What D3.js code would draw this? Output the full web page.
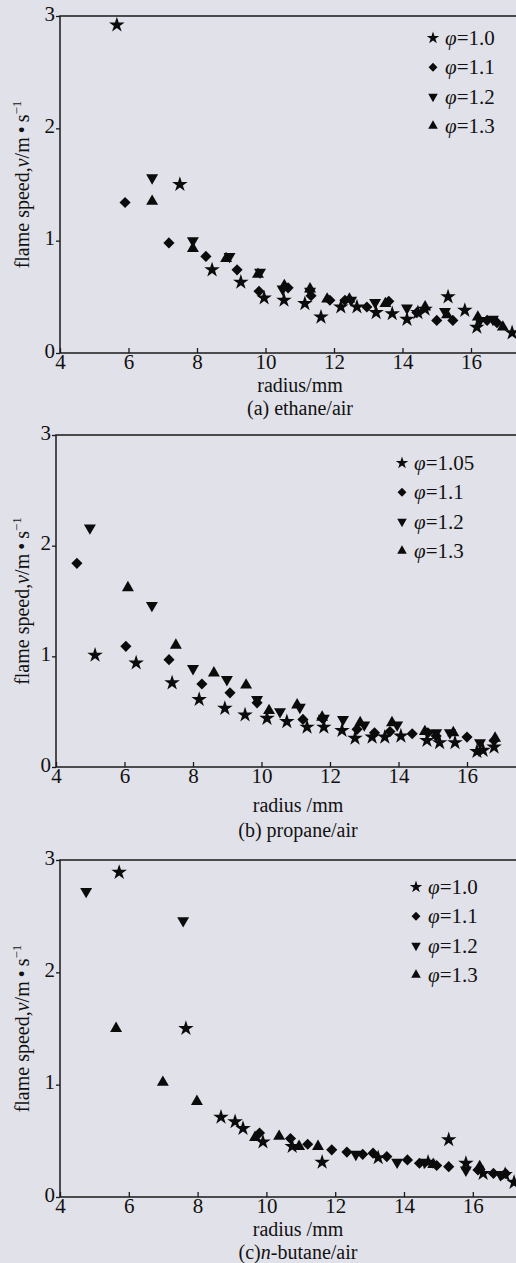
<!DOCTYPE html>
<html>
<head>
<meta charset="utf-8">
<script src="https://cdn.jsdelivr.net/npm/d3@7"></script>
<style>
  html, body { margin: 0; padding: 0; background: #e1e1e9; }
  svg { display: block; }
</style>
</head>
<body>
<div id="chart"></div>
<script>
// three stacked scatter panels: flame speed vs radius, 4 equivalence ratios each

const xTicks = [4, 6, 8, 10, 12, 14, 16];
const yTicks = [0, 1, 2, 3];

// (a) ethane/air  [radius mm, speed m/s]
const ethanePhi10 = [[5.66,2.92],[7.5,1.50],[8.44,0.74],[9.28,0.63],[9.96,0.49],[10.54,0.47],[11.15,0.44],[11.62,0.32],[12.2,0.41],[12.67,0.41],[13.23,0.36],[13.7,0.35],[14.13,0.30],[14.45,0.36],[14.66,0.39],[15.33,0.50],[15.82,0.38],[16.17,0.23],[17.2,0.18]];
const ethanePhi11 = [[5.9,1.34],[7.18,0.98],[8.26,0.86],[9.17,0.74],[9.81,0.55],[10.66,0.58],[11.33,0.51],[11.88,0.47],[12.32,0.47],[12.96,0.41],[13.6,0.46],[14.42,0.36],[15.0,0.29],[15.47,0.29],[16.47,0.29],[16.76,0.27]];
const ethanePhi12 = [[6.69,1.56],[7.88,1.0],[8.95,0.86],[9.84,0.72],[10.5,0.57],[11.3,0.55],[12.5,0.47],[13.2,0.45],[14.13,0.40],[15.24,0.37],[16.26,0.29],[16.64,0.30]];
const ethanePhi13 = [[6.69,1.35],[7.88,0.93],[8.85,0.84],[9.78,0.70],[10.55,0.60],[11.3,0.57],[11.8,0.48],[12.45,0.48],[13.5,0.44],[14.66,0.41],[15.3,0.34],[16.2,0.32],[16.93,0.23]];

// (b) propane/air
const propanePhi105 = [[5.14,1.01],[6.34,0.94],[7.39,0.76],[8.18,0.61],[8.93,0.53],[9.52,0.47],[10.16,0.44],[10.74,0.41],[11.33,0.36],[11.82,0.36],[12.35,0.33],[12.73,0.26],[13.23,0.27],[13.6,0.27],[14.07,0.28],[14.83,0.24],[15.2,0.22],[15.65,0.22],[16.29,0.14],[16.47,0.15],[16.79,0.18]];
const propanePhi11 = [[4.61,1.84],[6.04,1.09],[7.3,0.97],[8.26,0.75],[9.08,0.67],[9.87,0.58],[11.21,0.43],[11.77,0.44],[12.79,0.34],[13.3,0.31],[13.75,0.32],[14.4,0.30],[14.86,0.31],[15.1,0.28],[16.0,0.27],[16.79,0.24]];
const propanePhi12 = [[4.99,2.16],[6.8,1.46],[8.0,0.89],[8.99,0.79],[9.87,0.61],[10.54,0.50],[11.12,0.54],[11.82,0.44],[12.38,0.43],[13.0,0.38],[13.96,0.38],[15.1,0.31],[15.5,0.31],[16.38,0.22]];
const propanePhi13 = [[6.1,1.62],[7.5,1.10],[8.61,0.85],[9.55,0.74],[10.22,0.51],[11.04,0.56],[11.77,0.45],[12.88,0.40],[13.81,0.40],[14.77,0.32],[15.6,0.31],[16.82,0.26]];

// (c) n-butane/air
const butanePhi10 = [[5.72,2.89],[7.66,1.50],[8.68,0.71],[9.09,0.67],[9.32,0.61],[9.9,0.49],[10.75,0.45],[11.62,0.31],[13.25,0.35],[14.7,0.31],[15.3,0.51],[15.8,0.30],[16.3,0.21],[16.94,0.20],[17.2,0.13]];
const butanePhi11 = [[9.8,0.57],[10.7,0.52],[11.2,0.47],[11.9,0.42],[12.34,0.40],[12.8,0.38],[13.1,0.39],[13.5,0.36],[14.1,0.33],[14.45,0.30],[14.95,0.28],[15.3,0.27],[16.15,0.24],[16.6,0.21],[16.95,0.21]];
const butanePhi12 = [[4.76,2.72],[7.58,2.46],[12.6,0.38],[13.8,0.31],[14.6,0.31],[15.8,0.24],[16.8,0.20]];
const butanePhi13 = [[5.63,1.50],[6.99,1.02],[7.98,0.85],[9.67,0.53],[10.37,0.54],[10.95,0.45],[11.5,0.45],[14.85,0.29],[16.2,0.27]];

const legendA = ["1.0", "1.1", "1.2", "1.3"];
const legendB = ["1.05", "1.1", "1.2", "1.3"];
const legendC = ["1.0", "1.1", "1.2", "1.3"];

const xLabels = ["radius/mm", "radius /mm", "radius /mm"];
const captions = ["(a) ethane/air", "(b) propane/air", "(c)"];

// layout
const panels = [
  { series: [ethanePhi10, ethanePhi11, ethanePhi12, ethanePhi13], legend: legendA,
    left: 60, ppm: 34.25, top: 16, bottom: 353,
    legX: 433, legY: 38, xlab: xLabels[0], caption: captions[0],
    labDy: 39, capDy: 62, cx: 300 },
  { series: [propanePhi105, propanePhi11, propanePhi12, propanePhi13], legend: legendB,
    left: 56, ppm: 34.25, top: 435, bottom: 767,
    legX: 402, legY: 463, xlab: xLabels[1], caption: captions[1],
    labDy: 45, capDy: 70, cx: 298 },
  { series: [butanePhi10, butanePhi11, butanePhi12, butanePhi13], legend: legendC,
    left: 60, ppm: 34.4, top: 860, bottom: 1197,
    legX: 416, legY: 887, xlab: xLabels[2], caption: captions[2],
    labDy: 39, capDy: 62, cx: 298 }
];

const W = 516, H = 1263;
const FONT = "'Liberation Serif'";
const INK = "#111";

const svg = d3.select("#chart").append("svg")
  .attr("width", W)
  .attr("height", H);

// marker shapes: star, diamond, down triangle, up triangle
const starPath = d3.symbol(d3.symbolStar, 75)();
const diamondPath = d3.symbol(d3.symbolSquare, 62)();
const triPath = d3.symbol(d3.symbolTriangle, 62)();

function markerPath(i) {
  return [starPath, diamondPath, triPath, triPath][i];
}
function markerRot(i) {
  return [0, 45, 180, 0][i];
}

// every text gets the font set directly
function txt(sel, size) {
  return sel.append("text")
    .attr("font-family", FONT)
    .attr("font-size", size)
    .attr("fill", INK);
}

panels.forEach(p => {
  const x = d3.scaleLinear().domain([4, 18]).range([p.left, p.left + 14 * p.ppm]);
  const y = d3.scaleLinear().domain([0, 3]).range([p.bottom, p.top]);

  const g = svg.append("g");

  // frame
  g.append("rect")
    .attr("x", x(4))
    .attr("y", y(3))
    .attr("width", x(18) - x(4))
    .attr("height", y(0) - y(3))
    .attr("fill", "none")
    .attr("stroke", "#1a1a1a")
    .attr("stroke-width", 1.5);

  const xAxis = d3.axisBottom(x)
    .tickValues(xTicks)
    .tickSizeInner(-5)
    .tickSizeOuter(0)
    .tickPadding(1)
    .tickFormat(d3.format("d"));

  const gx = g.append("g")
    .attr("transform", `translate(0,${y(0)})`)
    .call(xAxis);
  gx.select(".domain").remove();
  gx.selectAll("line").attr("stroke", "#1a1a1a").attr("stroke-width", 1.3);
  gx.selectAll("text")
    .attr("font-family", FONT)
    .attr("font-size", 21)
    .attr("fill", INK);

  const yAxis = d3.axisLeft(y)
    .tickValues(yTicks)
    .tickSizeInner(4)
    .tickSizeOuter(0)
    .tickPadding(1)
    .tickFormat(d3.format("d"));

  const gy = g.append("g")
    .attr("transform", `translate(${x(4)},0)`)
    .call(yAxis);
  gy.select(".domain").remove();
  gy.selectAll("line").attr("stroke", "#1a1a1a").attr("stroke-width", 1.3);
  gy.selectAll("text")
    .attr("font-family", FONT)
    .attr("font-size", 21)
    .attr("fill", INK)
    .attr("dy", "0.2em");

  // points
  p.series.forEach((rows, i) => {
    g.append("g").selectAll("path")
      .data(rows)
      .join("path")
      .attr("d", markerPath(i))
      .attr("transform", d => `translate(${x(d[0])},${y(d[1])}) rotate(${markerRot(i)})`)
      .attr("fill", "#0b0b0b");
  });

  // legend
  p.legend.forEach((lab, i) => {
    const ly = p.legY + i * 29.3;
    g.append("path")
      .attr("d", markerPath(i))
      .attr("transform", `translate(${p.legX},${ly}) rotate(${markerRot(i)}) scale(0.8)`)
      .attr("fill", "#0b0b0b");
    const t = txt(g, 21)
      .attr("x", p.legX + 12)
      .attr("y", ly + 7);
    t.append("tspan").attr("font-style", "italic").text("φ");
    t.append("tspan").text("=" + lab);
  });

  // y label
  const cy = (p.top + p.bottom) / 2;
  const yl = txt(g, 20)
    .attr("transform", `translate(29,${cy}) rotate(-90)`)
    .attr("text-anchor", "middle");
  yl.append("tspan").text("flame speed,");
  yl.append("tspan").attr("font-style", "italic").text("v");
  yl.append("tspan").text("/m\u2009•\u2009s");
  yl.append("tspan").attr("font-size", 13).attr("dy", -8).text("−1");

  // x label + caption
  txt(g, 20)
    .attr("x", p.cx)
    .attr("y", p.bottom + p.labDy)
    .attr("text-anchor", "middle")
    .text(p.xlab);

  const cap = txt(g, 20)
    .attr("x", p.cx)
    .attr("y", p.bottom + p.capDy)
    .attr("text-anchor", "middle");
  if (p.caption === "(c)") {
    cap.append("tspan").text("(c)");
    cap.append("tspan").attr("font-style", "italic").text("n");
    cap.append("tspan").text("-butane/air");
  } else {
    cap.text(p.caption);
  }
});
</script>
</body>
</html>
